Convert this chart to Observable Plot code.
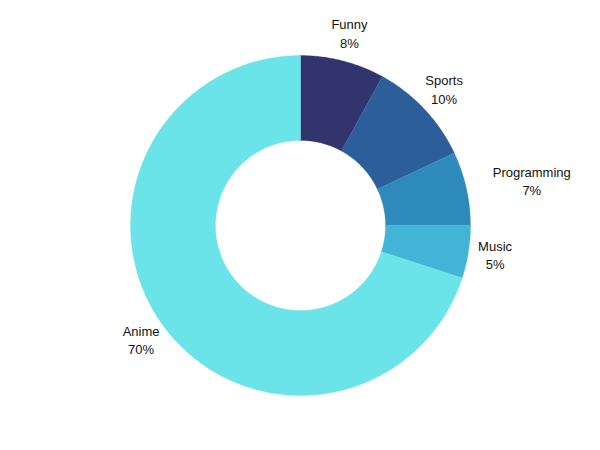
<!DOCTYPE html>
<html>
<head>
<meta charset="utf-8">
<script src="https://cdn.jsdelivr.net/npm/d3@7"></script>
<script src="https://cdn.jsdelivr.net/npm/@observablehq/plot@0.6"></script>
<style>
  html, body { margin: 0; padding: 0; background: #fff; }
  #chart { width: 600px; height: 450px; }
</style>
</head>
<body>
<div id="chart"></div>
<script>
const categories = ["Funny", "Sports", "Programming", "Music", "Anime"];
const values = [8, 10, 7, 5, 70];
const colors = ["#32346e", "#2c5e99", "#2e8aba", "#42b5d6", "#6ae4e8"];

const W = 600, H = 450, R = 170;
const inner = 0.5, labelR = 197 / R;
const total = d3.sum(values);

const pie = d3.pie().sort(null).value(d => d)(values);

// polygon points for each slice (angle measured clockwise from 12 o'clock)
const pts = [];
pie.forEach((p, i) => {
  const n = Math.max(8, Math.ceil((p.endAngle - p.startAngle) / 0.01));
  for (let k = 0; k <= n; k++) {
    const a = p.startAngle + (p.endAngle - p.startAngle) * k / n;
    pts.push({cat: categories[i], x: Math.sin(a), y: Math.cos(a)});
  }
  for (let k = n; k >= 0; k--) {
    const a = p.startAngle + (p.endAngle - p.startAngle) * k / n;
    pts.push({cat: categories[i], x: inner * Math.sin(a), y: inner * Math.cos(a)});
  }
});

// labels
const ctx = document.createElement("canvas").getContext("2d");
ctx.font = "13px 'Liberation Sans', Arial, sans-serif";
const labels = pie.map((p, i) => {
  const a = (p.startAngle + p.endAngle) / 2;
  let lx = labelR * Math.sin(a);
  const ly = labelR * Math.cos(a);
  const pct = Math.round(values[i] / total * 100) + "%";
  const w = Math.max(ctx.measureText(categories[i]).width, ctx.measureText(pct).width) / R;
  // inner edge of a centred label: if it falls inside the pie, push the label outward
  const ex = lx - Math.sign(lx) * w / 2;
  if (Math.hypot(ex, ly) < 1) lx += Math.sign(lx) * w / 2;
  return {text: categories[i] + "\n" + pct, x: lx, y: ly};
});

const chart = Plot.plot({
  width: W,
  height: H,
  margin: 0,
  x: {domain: [-W / 2 / R, W / 2 / R], axis: null},
  y: {domain: [-H / 2 / R, H / 2 / R], axis: null},
  color: {domain: categories, range: colors},
  style: {fontFamily: "'Liberation Sans', Arial, sans-serif", background: "#fff"},
  marks: [
    Plot.line(pts, {x: "x", y: "y", z: "cat", fill: "cat", stroke: "cat", strokeWidth: 0.3, curve: "linear-closed"}),
    Plot.text(labels, {x: "x", y: "y", text: "text", textAnchor: "middle", fontSize: 13, lineHeight: 1.4, dy: -2, fill: "#111"})
  ]
});
document.getElementById("chart").appendChild(chart);
</script>
</body>
</html>
